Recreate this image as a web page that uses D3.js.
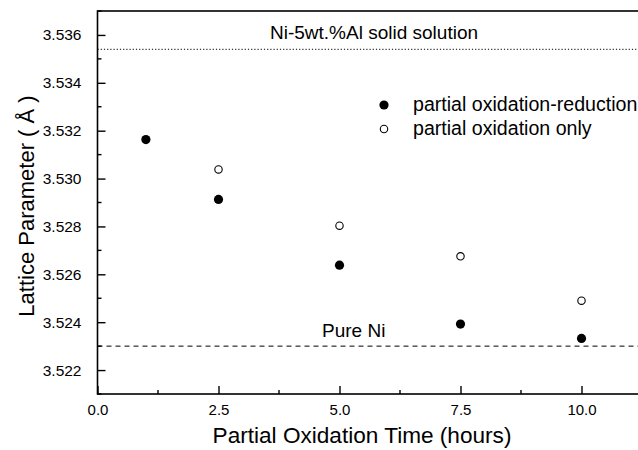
<!DOCTYPE html>
<html>
<head>
<meta charset="utf-8">
<script src="https://cdn.jsdelivr.net/npm/d3@7"></script>
<style>
  html, body { margin: 0; padding: 0; background: #fff; }
  svg { display: block; font-family: "Liberation Sans", Arial, sans-serif; }
</style>
</head>
<body>
<svg id="chart" width="638" height="450"></svg>
<script>
// Oxidation time (hours) for each measurement
const redTimes = [1.0, 2.5, 5.0, 7.5, 10.0];
const redValues = [3.53163, 3.52913, 3.52638, 3.52392, 3.52332];   // partial oxidation-reduction
const oxTimes = [2.5, 5.0, 7.5, 10.0];
const oxValues = [3.53038, 3.52803, 3.52675, 3.52490];             // partial oxidation only

// Reference lattice parameters
const pureNi = 3.5230;
const niAlSolution = 3.5354;

const xTicks = [0, 2.5, 5.0, 7.5, 10.0];
const xMinor = [1.25, 3.75, 6.25, 8.75];
const yTicks = [3.522, 3.524, 3.526, 3.528, 3.530, 3.532, 3.534, 3.536];
const yMinor = [3.521, 3.523, 3.525, 3.527, 3.529, 3.531, 3.533, 3.535, 3.537];

const svg = d3.select("#chart");
const plotLeft = 97.5, plotTop = 11, plotBottom = 394;
const x = d3.scaleLinear().domain([0, 11.25]).range([plotLeft, plotLeft + 48.4 * 11.25]);
const y = d3.scaleLinear().domain([3.521, 3.537]).range([plotBottom, plotTop]);
const plotRight = x.range()[1];

// frame
svg.append("rect")
  .attr("x", plotLeft).attr("y", plotTop)
  .attr("width", plotRight - plotLeft).attr("height", plotBottom - plotTop)
  .attr("fill", "none").attr("stroke", "#000").attr("stroke-width", 1.6);

// x axis with inward ticks
const xAxis = svg.append("g").attr("transform", `translate(0,${plotBottom})`)
  .call(d3.axisBottom(x).tickValues(xTicks).tickFormat(d3.format(".1f"))
    .tickSizeInner(-8).tickSizeOuter(0).tickPadding(10));
xAxis.select(".domain").remove();
xAxis.selectAll(".tick line").attr("stroke-width", 1.4);
xAxis.selectAll("text").attr("font-size", 15).attr("fill", "#000");
svg.append("g").attr("transform", `translate(0,${plotBottom})`)
  .selectAll("line").data(xMinor).join("line")
  .attr("x1", d => x(d)).attr("x2", d => x(d))
  .attr("y1", 0).attr("y2", -4).attr("stroke", "#000").attr("stroke-width", 1.4);

// y axis with inward ticks
const yAxis = svg.append("g").attr("transform", `translate(${plotLeft},0)`)
  .call(d3.axisLeft(y).tickValues(yTicks).tickFormat(d3.format(".3f"))
    .tickSizeInner(-8).tickSizeOuter(0).tickPadding(16));
yAxis.select(".domain").remove();
yAxis.selectAll(".tick line").attr("stroke-width", 1.4);
yAxis.selectAll("text").attr("font-size", 15.5).attr("fill", "#000");
svg.append("g").attr("transform", `translate(${plotLeft},0)`)
  .selectAll("line").data(yMinor).join("line")
  .attr("x1", 0).attr("x2", 4)
  .attr("y1", d => y(d)).attr("y2", d => y(d)).attr("stroke", "#000").attr("stroke-width", 1.4);

// axis titles
svg.append("text")
  .attr("x", 362).attr("y", 443)
  .attr("text-anchor", "middle").attr("font-size", 22.6)
  .text("Partial Oxidation Time (hours)");
svg.append("text")
  .attr("transform", `translate(34,206) rotate(-90)`)
  .attr("text-anchor", "middle").attr("font-size", 22)
  .text("Lattice Parameter ( Å )");

// reference lines
svg.append("line")
  .attr("x1", plotLeft).attr("x2", plotRight)
  .attr("y1", y(niAlSolution)).attr("y2", y(niAlSolution))
  .attr("stroke", "#000").attr("stroke-width", 1).attr("stroke-dasharray", "1.2 2");
svg.append("line")
  .attr("x1", plotLeft).attr("x2", plotRight)
  .attr("y1", y(pureNi)).attr("y2", y(pureNi))
  .attr("stroke", "#000").attr("stroke-width", 1).attr("stroke-dasharray", "5 4");

svg.append("text").attr("x", 270).attr("y", 39).attr("font-size", 19)
  .text("Ni-5wt.%Al solid solution");
svg.append("text").attr("x", 322).attr("y", 337).attr("font-size", 19)
  .text("Pure Ni");

// data points
svg.append("g").selectAll("circle")
  .data(redTimes.map((t, i) => [t, redValues[i]])).join("circle")
  .attr("cx", d => x(d[0])).attr("cy", d => y(d[1])).attr("r", 4.6)
  .attr("fill", "#000");
svg.append("g").selectAll("circle")
  .data(oxTimes.map((t, i) => [t, oxValues[i]])).join("circle")
  .attr("cx", d => x(d[0])).attr("cy", d => y(d[1])).attr("r", 3.7)
  .attr("fill", "#fff").attr("stroke", "#000").attr("stroke-width", 1.1);

// legend
const legend = svg.append("g");
legend.append("circle").attr("cx", 384).attr("cy", 105).attr("r", 4.6).attr("fill", "#000");
legend.append("text").attr("x", 413).attr("y", 111).attr("font-size", 19.6)
  .text("partial oxidation-reduction");
legend.append("circle").attr("cx", 384).attr("cy", 129).attr("r", 3.7)
  .attr("fill", "#fff").attr("stroke", "#000").attr("stroke-width", 1.1);
legend.append("text").attr("x", 413).attr("y", 135).attr("font-size", 19.6)
  .text("partial oxidation only");
</script>
</body>
</html>
